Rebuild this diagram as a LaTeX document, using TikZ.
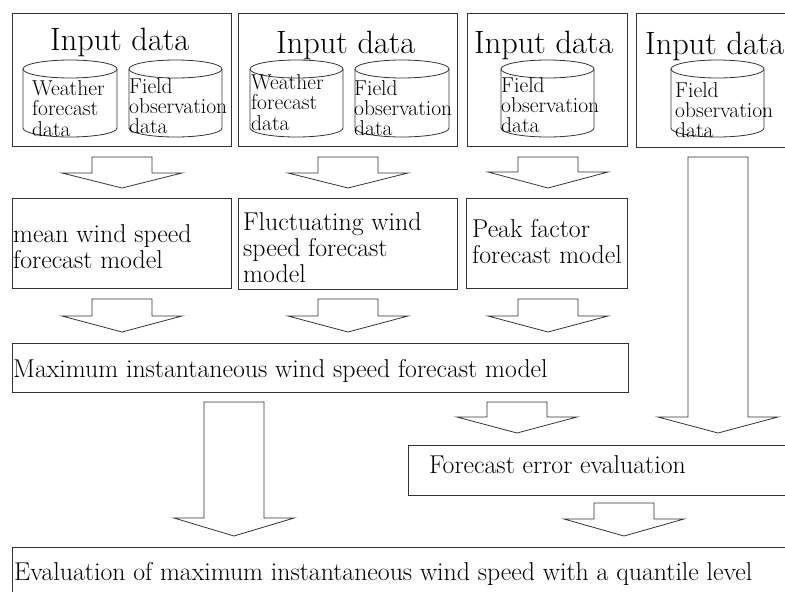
\documentclass[tikz,border=0pt]{standalone}
\usepackage{tikz}
\tikzset{
  ln/.style={line width=0.8pt, draw=black!80},
  boxnode/.style={ln, rectangle, inner sep=0pt, anchor=north west},
  big/.style={font=\fontsize{32.3}{34}\selectfont, inner sep=0pt, anchor=base west},
  small/.style={font=\fontsize{21.5}{18.5}\selectfont, inner sep=0pt, anchor=base west},
  mid/.style={font=\fontsize{25.8}{26}\selectfont, inner sep=0pt, anchor=base west},
}
\newcommand\lns[1]{\begin{tabular}[t]{@{}l@{}}#1\end{tabular}}
% box: name, x1, y1, x2, y2
\newcommand\mybox[5]{\node[boxnode, minimum width={(#4-#2)*1pt}, minimum height={(#5-#3)*1pt}] (#1) at (#2,#3) {};}
% cylinder: name, left x, right x
\newcommand\mycyl[3]{%
  \pgfmathsetmacro\cx{(#2+#3)/2}\pgfmathsetmacro\rx{(#3-#2)/2}\pgfmathsetmacro\kx{0.5523*\rx}%
  \coordinate (#1) at (\cx,100);
  \draw[ln] (\cx,69) ellipse [x radius=\rx pt, y radius=9pt];
  \draw[ln] (#2,69) -- (#2,128) .. controls (#2,133) and ({\cx-\kx},137) .. (\cx,137)
     .. controls ({\cx+\kx},137) and (#3,133) .. (#3,128) -- (#3,69);}
% block arrow: name, centre x, top y, wing y, tip y
\newcommand\blockarr[5]{%
  \coordinate (#1) at (#2,#5);
  \draw[ln, line join=miter] ({#2-30},#3) -- ({#2+30},#3) -- ({#2+30},#4) -- ({#2+60},#4)
     -- (#2,#5) -- ({#2-60},#4) -- ({#2-30},#4) -- cycle;}
\begin{document}
\begin{tikzpicture}[x=1pt, y=-1pt]
\useasboundingbox (0,0) rectangle (785,592);
% row 1 boxes
\mybox{in1}{12}{13}{231}{146}
\mybox{in2}{238}{13}{457}{146}
\mybox{in3}{467}{13}{627}{146}
\mybox{in4}{636}{13}{800}{147}
\node[big] (t1) at (50,50) {Input data};
\node[big] (t2) at (276,53) {Input data};
\node[big] (t3) at (474,53) {Input data};
\node[big] (t4) at (645,54) {Input data};
\mycyl{c1a}{23}{117}
\mycyl{c1b}{129}{222}
\mycyl{c2a}{250}{343}
\mycyl{c2b}{355}{449}
\mycyl{c3}{501}{594}
\mycyl{c4}{671}{764}
\node[small] (d1a) at (32,95) {\lns{Weather\\forecast\\data}};
\node[small] (d1b) at (129,93) {\lns{Field\\observation\\data}};
\node[small] (d2a) at (251,89) {\lns{Weather\\forecast\\data}};
\node[small] (d2b) at (354,95) {\lns{Field\\observation\\data}};
\node[small] (d3) at (501,92) {\lns{Field\\observation\\data}};
\node[small] (d4) at (675,97) {\lns{Field\\observation\\data}};
% row 1 arrows
\blockarr{a1}{122}{157}{173}{188}
\blockarr{a2}{348}{157}{173}{188}
\blockarr{a3}{548}{157}{172}{188}
% row 2 boxes
\mybox{m1}{12}{198}{231}{288}
\mybox{m2}{238}{198}{457}{289}
\mybox{m3}{466}{198}{627}{288}
\node[mid] (mt1) at (13,242) {\lns{mean wind speed\\forecast model}};
\node[mid] (mt2) at (243,230) {\lns{Fluctuating wind\\speed forecast\\model}};
\node[mid] (mt3) at (472,237) {\lns{Peak factor\\forecast model}};
% row 2 arrows
\blockarr{b1}{122}{299}{316}{332}
\blockarr{b2}{348}{299}{316}{332}
\blockarr{b3}{548}{299}{316}{332}
% max box
\mybox{mx}{12}{343}{628}{392}
\node[mid] (mxt) at (13,377) {Maximum instantaneous wind speed forecast model};
% long arrow from obs data
\blockarr{lg}{718}{157}{417}{433}
% small arrow under max
\blockarr{sm}{517}{402}{417}{433}
% forecast error box
\mybox{fe}{408}{445}{800}{495}
\node[mid] (fet) at (429,473) {Forecast error evaluation};
% left big arrow
\blockarr{lb}{234}{402}{518}{536}
% bottom right arrow
\blockarr{br}{624}{503}{519}{536}
% bottom box
\mybox{ev}{12}{547}{800}{600}
\node[mid] (evt) at (14,580) {Evaluation of maximum instantaneous wind speed with a quantile level};
\end{tikzpicture}
\end{document}
